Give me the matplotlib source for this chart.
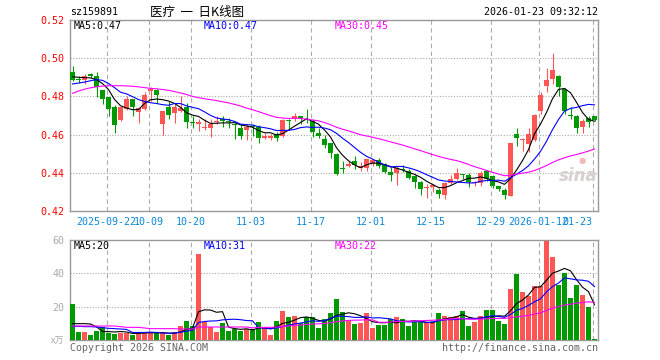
import pandas as pd
import matplotlib
matplotlib.use('Agg')
from matplotlib import pyplot as plt

# daily candles (index 0 = 2025-09-12 ... 87 = 2026-01-23)
opens = [0.4926, 0.4893, 0.4888, 0.4918, 0.4905, 0.4835, 0.4795, 0.4742, 0.4677, 0.4733,
         0.4786, 0.4716, 0.4733, 0.4830, 0.4833, 0.4654, 0.4742, 0.4712, 0.4725, 0.4742,
         0.4667, 0.4656, 0.4632, 0.4637, 0.4668, 0.4681, 0.4668, 0.4656, 0.4637, 0.4625,
         0.4644, 0.4642, 0.4584, 0.4584, 0.4602, 0.4593, 0.4674, 0.4684, 0.4695, 0.4683,
         0.4672, 0.4607, 0.4575, 0.4554, 0.4496, 0.4423, 0.4435, 0.4461, 0.4426, 0.4426,
         0.4444, 0.4467, 0.4444, 0.4404, 0.4400, 0.4420, 0.4409, 0.4382, 0.4351, 0.4320,
         0.4326, 0.4312, 0.4286, 0.4344, 0.4365, 0.4391, 0.4391, 0.4344, 0.4344, 0.4409,
         0.4382, 0.4330, 0.4312, 0.4281, 0.4602, 0.4572, 0.4549, 0.4572, 0.4725, 0.4856,
         0.4891, 0.4909, 0.4839, 0.4699, 0.4695, 0.4642, 0.4689, 0.4695]
highs = [0.4961, 0.4905, 0.4918, 0.4920, 0.4930, 0.4835, 0.4795, 0.4754, 0.4742, 0.4800,
         0.4786, 0.4737, 0.4821, 0.4847, 0.4839, 0.4725, 0.4777, 0.4760, 0.4800, 0.4768,
         0.4698, 0.4681, 0.4681, 0.4681, 0.4695, 0.4698, 0.4688, 0.4663, 0.4654, 0.4654,
         0.4654, 0.4649, 0.4607, 0.4602, 0.4611, 0.4681, 0.4681, 0.4712, 0.4698, 0.4733,
         0.4681, 0.4632, 0.4596, 0.4558, 0.4505, 0.4461, 0.4461, 0.4488, 0.4456, 0.4474,
         0.4470, 0.4479, 0.4449, 0.4430, 0.4435, 0.4440, 0.4418, 0.4391, 0.4356, 0.4339,
         0.4339, 0.4321, 0.4351, 0.4391, 0.4423, 0.4392, 0.4400, 0.4356, 0.4409, 0.4414,
         0.4391, 0.4333, 0.4321, 0.4554, 0.4632, 0.4584, 0.4632, 0.4707, 0.4821, 0.4947,
         0.5028, 0.4912, 0.4842, 0.4742, 0.4702, 0.4681, 0.4695, 0.4698]
lows = [0.4882, 0.4870, 0.4865, 0.4895, 0.4795, 0.4760, 0.4698, 0.4607, 0.4672, 0.4730,
        0.4698, 0.4663, 0.4730, 0.4777, 0.4768, 0.4598, 0.4681, 0.4663, 0.4716, 0.4637,
        0.4632, 0.4619, 0.4625, 0.4589, 0.4654, 0.4640, 0.4632, 0.4579, 0.4579, 0.4572,
        0.4593, 0.4554, 0.4575, 0.4572, 0.4567, 0.4589, 0.4628, 0.4672, 0.4654, 0.4663,
        0.4589, 0.4582, 0.4532, 0.4479, 0.4391, 0.4400, 0.4430, 0.4418, 0.4409, 0.4409,
        0.4435, 0.4426, 0.4400, 0.4356, 0.4335, 0.4404, 0.4365, 0.4321, 0.4286, 0.4268,
        0.4298, 0.4268, 0.4263, 0.4339, 0.4360, 0.4365, 0.4326, 0.4330, 0.4333, 0.4356,
        0.4321, 0.4304, 0.4263, 0.4277, 0.4540, 0.4514, 0.4509, 0.4567, 0.4707, 0.4825,
        0.4865, 0.4804, 0.4707, 0.4681, 0.4607, 0.4607, 0.4642, 0.4672]
closes = [0.4888, 0.4888, 0.4909, 0.4905, 0.4847, 0.4786, 0.4733, 0.4649, 0.4742, 0.4786,
          0.4742, 0.4737, 0.4807, 0.4839, 0.4807, 0.4725, 0.4702, 0.4742, 0.4737, 0.4667,
          0.4663, 0.4667, 0.4642, 0.4654, 0.4672, 0.4672, 0.4665, 0.4652, 0.4593, 0.4642,
          0.4640, 0.4581, 0.4593, 0.4593, 0.4582, 0.4677, 0.4671, 0.4698, 0.4688, 0.4679,
          0.4614, 0.4593, 0.4547, 0.4505, 0.4396, 0.4419, 0.4447, 0.4439, 0.4435, 0.4470,
          0.4467, 0.4435, 0.4404, 0.4391, 0.4426, 0.4417, 0.4374, 0.4351, 0.4316, 0.4322,
          0.4335, 0.4291, 0.4347, 0.4368, 0.4400, 0.4390, 0.4351, 0.4351, 0.4400, 0.4365,
          0.4330, 0.4316, 0.4286, 0.4554, 0.4584, 0.4579, 0.4602, 0.4702, 0.4807, 0.4888,
          0.4940, 0.4847, 0.4725, 0.4697, 0.4637, 0.4672, 0.4667, 0.4677]
volumes = [21.6, 4.8, 4.8, 3.0, 5.4, 7.6, 4.4, 3.6, 4.4, 4.0,
           3.2, 4.8, 4.8, 4.8, 4.0, 4.0, 2.8, 5.0, 8.4, 11.4,
           8.2, 51.6, 11.0, 7.6, 4.8, 10.0, 5.4, 6.4, 5.4, 6.4,
           6.8, 10.8, 7.6, 2.8, 11.4, 17.4, 13.8, 14.4, 10.0, 13.6,
           13.6, 7.2, 12.4, 16.2, 24.6, 16.8, 11.6, 9.6, 10.2, 16.2,
           7.2, 9.0, 9.0, 12.4, 13.8, 12.4, 8.4, 10.8, 10.8, 10.8,
           10.8, 16.2, 14.4, 13.8, 14.4, 17.4, 8.4, 10.8, 14.4, 18.0,
           18.0, 11.4, 9.6, 30.6, 39.6, 28.8, 26.4, 32.4, 32.4, 59.4,
           49.8, 33.0, 40.2, 25.2, 33.0, 27.0, 19.8, 0.6]

# moving averages of the first days as drawn (their windows reach back
# before the first candle shown)
ma5_start = [0.4903, 0.4900, 0.4898, 0.4897]
ma10_start = [0.4865, 0.4870, 0.4875, 0.4882, 0.4888, 0.4884, 0.4868, 0.4846, 0.4822]
ma30_start = [0.4816, 0.4828, 0.4838, 0.4845, 0.4850, 0.4854, 0.4856, 0.4856, 0.4856,
              0.4855, 0.4853, 0.4850, 0.4846, 0.4842, 0.4840, 0.4836, 0.4832, 0.4825,
              0.4818, 0.4810, 0.4800, 0.4793, 0.4788, 0.4783, 0.4778, 0.4772, 0.4766,
              0.4758, 0.4750]
vma5_start = [9.8, 9.8, 9.8, 9.6]
vma10_start = [8.2, 8.2, 8.0, 8.0, 7.8, 7.4, 7.0, 6.8, 6.6]
vma30_start = [8.4, 8.4, 8.4, 8.4, 8.4, 8.4, 8.4, 8.4, 8.0, 7.6,
               7.6, 7.6, 7.2, 6.8, 6.8, 6.8, 6.8, 6.8, 6.6, 6.6,
               6.6, 7.8, 7.8, 7.8, 7.8, 7.8, 7.8, 7.8, 7.8]

date_labels = ['2025-09-22', '10-09', '10-20', '11-03', '11-17',
               '12-01', '12-15', '12-29', '2026-01-12', '01-23']
date_index = [6, 13, 20, 30, 40, 50, 60, 70, 78, 87]
price_ticks = [0.42, 0.44, 0.46, 0.48, 0.50, 0.52]
volume_ticks = [20, 40, 60]

RED = '#ff5555'
GREEN = '#009900'
GRID = '#aaaaaa'
MONO = 'DejaVu Sans Mono'
CJK = ['Noto Sans CJK SC', 'DejaVu Sans']
FS = 7.2

df = pd.DataFrame({'open': opens, 'high': highs, 'low': lows,
                   'close': closes, 'volume': volumes})
starts = {'ma5': ma5_start, 'ma10': ma10_start, 'ma30': ma30_start,
          'vma5': vma5_start, 'vma10': vma10_start, 'vma30': vma30_start}
for n in (5, 10, 30):
    df['ma%d' % n] = df['close'].rolling(n).mean()
    df['vma%d' % n] = df['volume'].rolling(n).mean()
for col, vals in starts.items():
    df.loc[:len(vals) - 1, col] = vals
df['up'] = df['close'] >= df['open']
colors = [RED if u else GREEN for u in df['up']]
x = df.index.values

W, H = 660, 360


def px(xp, yp):
    return xp / W, 1 - yp / H


fig = plt.figure(figsize=(6.6, 3.6), dpi=100)
ax1 = fig.add_axes([70 / W, 1 - 211 / H, 528 / W, 191 / H])
ax2 = fig.add_axes([70 / W, 1 - 340 / H, 528 / W, 100 / H])

# price panel
ax1.vlines(x, df['low'], df['high'], colors=colors, lw=0.8, zorder=3)
body = (df['close'] - df['open']).abs().clip(lower=0.00045)
ax1.bar(x, body, bottom=df[['open', 'close']].min(axis=1), width=0.8,
        color=colors, linewidth=0, zorder=3)
ax1.plot(x, df['ma5'], color='black', lw=0.8, zorder=4)
ax1.plot(x, df['ma10'], color='#0000ff', lw=0.8, zorder=4)
ax1.plot(x, df['ma30'], color='#ff00ff', lw=0.8, zorder=4)
ax1.set_ylim(0.42, 0.52)
ax1.set_yticks(price_ticks)
ax1.set_yticklabels(['%.2f' % v for v in price_ticks], color='red',
                    family=MONO, fontsize=FS)
for v in price_ticks[1:-1]:
    ax1.axhline(v, color=GRID, lw=0.8, ls=(0, (1, 1.5)), zorder=1)

# volume panel
ax2.bar(x, df['volume'], width=0.8, color=colors, linewidth=0, zorder=3)
ax2.plot(x, df['vma5'], color='black', lw=0.8, zorder=4)
ax2.plot(x, df['vma10'], color='#0000ff', lw=0.8, zorder=4)
ax2.plot(x, df['vma30'], color='#ff00ff', lw=0.8, zorder=4)
ax2.set_ylim(0, 60)
ax2.set_yticks(volume_ticks)
ax2.set_yticklabels([str(v) for v in volume_ticks], color=GRID,
                    family=MONO, fontsize=FS)
for v in volume_ticks[:-1]:
    ax2.axhline(v, color=GRID, lw=0.8, ls=(0, (1, 1.5)), zorder=1)

line_pos = [i - 0.33 for i in date_index]
for ax in (ax1, ax2):
    ax.set_xlim(-0.417, len(x) - 0.417)
    for p in line_pos:
        ax.axvline(p, color=GRID, lw=0.8, ls=(0, (4, 3)), zorder=1)
    for s in ax.spines.values():
        s.set_color('#999999')
        s.set_linewidth(1.0)
    ax.tick_params(length=0, pad=4)

ax1.set_xticks(line_pos)
ax1.set_xticklabels(date_labels, color='#0a88d8', family=MONO, fontsize=FS)
ax1.get_xticklabels()[-1].set_ha('right')
ax2.set_xticks([])

# texts
fig.text(*px(70, 12), 'sz159891', family=MONO, fontsize=FS, va='center')
fig.text(*px(150, 12), '医疗  一  日K线图', family=CJK, fontsize=9, va='center')
fig.text(*px(598, 12), '2026-01-23 09:32:12', family=MONO, fontsize=FS,
         va='center', ha='right')
fig.text(*px(74, 26), 'MA5:0.47', family=MONO, fontsize=FS, va='center')
fig.text(*px(204, 26), 'MA10:0.47', family=MONO, fontsize=FS, va='center',
         color='#0000ff')
fig.text(*px(335, 26), 'MA30:0.45', family=MONO, fontsize=FS, va='center',
         color='#ff00ff')
fig.text(*px(74, 246), 'MA5:20', family=MONO, fontsize=FS, va='center')
fig.text(*px(204, 246), 'MA10:31', family=MONO, fontsize=FS, va='center',
         color='#0000ff')
fig.text(*px(335, 246), 'MA30:22', family=MONO, fontsize=FS, va='center',
         color='#ff00ff')
fig.text(*px(64, 341), 'x万', family=CJK, fontsize=6.5, va='center',
         ha='right', color=GRID)
fig.text(*px(70, 348), 'Copyright 2026 SINA.COM', family=MONO, fontsize=FS,
         va='center', color='#666666')
fig.text(*px(598, 348), 'http://finance.sina.com.cn', family=MONO,
         fontsize=FS, va='center', ha='right', color='#666666')
fig.text(*px(578, 176), 'sina', fontsize=12, fontweight='bold',
         style='italic', ha='center', va='center', color='#d8d0d0')
fig.text(*px(582, 161), '●', fontsize=6, ha='center', va='center',
         color='#f4b8b8')

plt.savefig('out.png', dpi=100)
